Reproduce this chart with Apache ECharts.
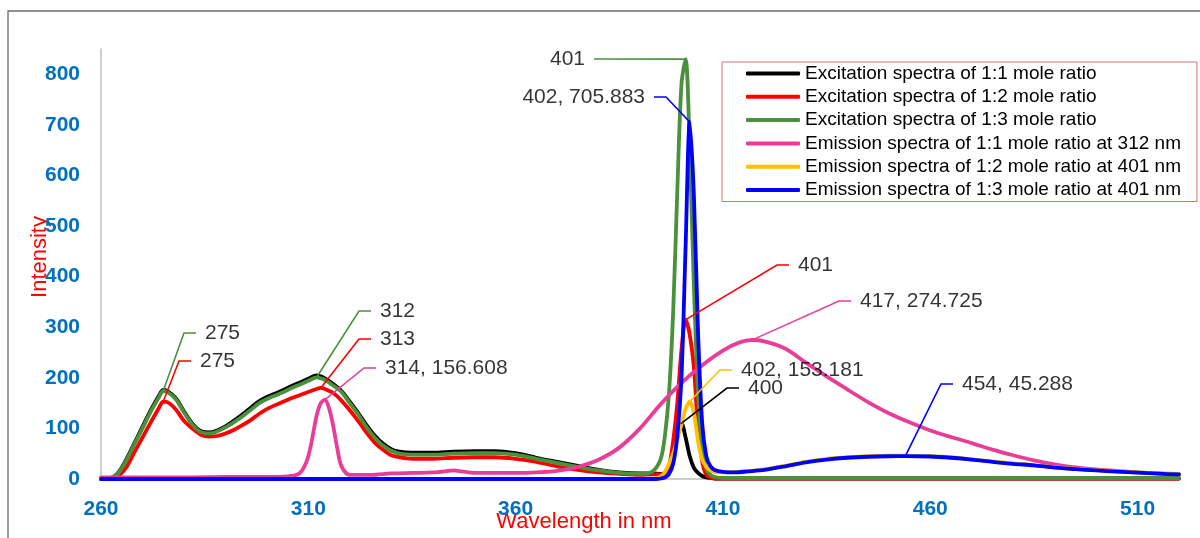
<!DOCTYPE html>
<html>
<head>
<meta charset="utf-8">
<script src="https://cdn.jsdelivr.net/npm/echarts@6/dist/echarts.min.js"></script>
<style>
  html, body { margin: 0; padding: 0; background: #ffffff; }
  #chart { width: 1200px; height: 538px; }
</style>
</head>
<body>
<div id="chart"></div>
<script>
// ---- Spectra data: wavelength (nm) and intensity ----
const excWavelength = [260, 262, 264, 266, 268, 270, 272, 274, 275, 276, 278, 280, 282, 284, 286, 288, 290, 292, 294, 296, 298, 300, 302, 304, 306, 308, 310, 312, 313, 314, 316, 318, 320, 322, 324, 326, 328, 330, 332, 335, 340, 345, 350, 355, 360, 365, 370, 375, 380, 385, 390, 393, 395, 396, 397, 398, 399, 400, 401, 402, 403, 404, 405, 406, 407, 408, 410, 415, 420, 430, 440, 450, 460, 470, 480, 490, 500, 510, 520];

const exc11 = [0, 1, 11, 37, 70, 103, 136, 165, 176, 174, 160, 134, 110, 95, 92, 96, 104, 115, 127, 140, 153, 162, 169, 176, 184, 191, 198, 205, 203, 199, 188, 174, 153, 131, 107, 86, 70, 59, 54, 52, 52, 54, 55, 55, 51, 42, 34, 26, 18, 13, 11, 11, 10, 12, 25, 58, 95, 110, 82, 45, 22, 12, 6, 3, 2, 1, 1, 1, 1, 1, 1, 1, 1, 1, 1, 1, 1, 1, 1];

const exc12 = [0, 0, 5, 22, 52, 82, 112, 141, 153, 152, 138, 115, 100, 88, 84, 85, 90, 97, 106, 116, 128, 138, 146, 153, 160, 166, 172, 178, 180, 178, 170, 155, 136, 115, 92, 72, 58, 47, 43, 40, 40, 42, 43, 43, 40, 34, 25, 18, 13, 10, 8, 9, 9, 11, 25, 75, 150, 255, 315, 285, 220, 100, 35, 8, 3, 1, 1, 1, 1, 1, 1, 1, 1, 1, 1, 1, 1, 1, 1];

const exc13 = [0, 1, 10, 35, 68, 100, 133, 162, 174, 172, 158, 132, 108, 93, 90, 94, 102, 112, 123, 136, 149, 158, 165, 172, 180, 187, 194, 201, 199, 196, 185, 172, 150, 128, 103, 82, 66, 56, 50, 48, 48, 50, 51, 51, 48, 40, 32, 24, 17, 12, 10, 15, 40, 85, 170, 330, 570, 780, 830, 650, 380, 170, 60, 20, 8, 4, 2, 2, 2, 2, 2, 2, 2, 2, 2, 2, 2, 2, 2];

const em11Wavelength = [260, 270, 280, 290, 300, 305, 308, 310, 312, 313, 314, 315, 316, 317, 318, 320, 325, 330, 335, 340, 343, 345, 347, 350, 355, 360, 365, 370, 375, 380, 385, 390, 395, 400, 405, 410, 414, 417, 420, 425, 430, 435, 440, 445, 450, 455, 460, 465, 470, 475, 480, 485, 490, 495, 500, 505, 510, 515, 520];
const em11 = [3, 3, 3, 4, 4, 5, 12, 45, 125, 150, 156.608, 140, 105, 60, 25, 8, 8, 11, 12, 13, 15, 17, 15, 12, 12, 12, 13, 16, 24, 38, 62, 100, 148, 190, 225, 254, 270, 274.725, 272, 258, 230, 203, 177, 152, 130, 112, 96, 83, 71, 58, 47, 37, 29, 23, 19, 16, 13, 11, 10];

const emWavelength = [260, 280, 300, 320, 340, 360, 380, 390, 393, 394, 395, 396, 397, 398, 399, 400, 401, 402, 403, 404, 405, 406, 407, 408, 410, 413, 416, 420, 425, 430, 435, 440, 445, 450, 454, 460, 465, 470, 475, 480, 485, 490, 495, 500, 505, 510, 515, 520];
const em12 = [0, 0, 0, 0, 0, 0, 0, 0, 0, 2, 5, 14, 30, 50, 78, 108, 138, 153.181, 130, 75, 38, 24, 17, 14, 13, 14, 16, 19, 26, 34, 40, 43, 45, 46, 46, 45, 43, 39, 35, 31, 27.5, 23, 20, 17.5, 15, 13, 11, 9.5];
const em13 = [0, 0, 0, 0, 0, 0, 0, 0, 0, 0, 1, 3, 10, 30, 85, 200, 460, 705.883, 560, 290, 110, 45, 25, 18, 14, 13, 15, 18, 25, 33, 38.5, 42, 44, 45, 45.288, 44.5, 42, 38.5, 34, 30, 27, 22.5, 19.5, 17, 14.5, 12.5, 10.5, 9];

const seriesNames = [
  'Excitation spectra of 1:1 mole ratio',
  'Excitation spectra of 1:2 mole ratio',
  'Excitation spectra of 1:3 mole ratio',
  'Emission spectra of 1:1 mole ratio at 312 nm',
  'Emission spectra of 1:2 mole ratio at 401 nm',
  'Emission spectra of 1:3 mole ratio at 401 nm'
];
const seriesColors = ['#000000', '#FF0000', '#4A913C', '#E83E98', '#FFC000', '#0000FF'];

const xTicks = { min: 260, max: 520, step: 50 };
const yTicks = { min: 0, max: 850, step: 100 };

// Peak callouts: series index, wavelength, whether the intensity is printed too
const callouts = [
  [2, 275, false],
  [1, 275, false],
  [2, 312, false],
  [1, 313, false],
  [3, 314, true],
  [2, 401, false],
  [5, 402, true],
  [1, 401, false],
  [3, 417, true],
  [4, 402, true],
  [0, 400, false],
  [5, 454, true]
];
// Where each callout's text box sits (pixels) and how it is aligned
const calloutPlacement = [
  { x: 196, y: 333, align: 'left' },
  { x: 191, y: 361, align: 'left' },
  { x: 371, y: 311, align: 'left' },
  { x: 371, y: 339, align: 'left' },
  { x: 376, y: 368, align: 'left' },
  { x: 594, y: 59, align: 'right' },
  { x: 654, y: 97, align: 'right' },
  { x: 789, y: 265, align: 'left' },
  { x: 851, y: 301, align: 'left' },
  { x: 732, y: 370, align: 'left' },
  { x: 739, y: 388, align: 'left' },
  { x: 953, y: 384, align: 'left' }
];

const seriesX = [excWavelength, excWavelength, excWavelength, em11Wavelength, emWavelength, emWavelength];
const seriesY = [exc11, exc12, exc13, em11, em12, em13];

function pairs(xs, ys) {
  return xs.map((x, i) => [x, ys[i]]);
}

const FONT = '"Liberation Sans", Arial, sans-serif';

const lineSeries = seriesNames.map((name, i) => ({
  name: name,
  type: 'line',
  data: pairs(seriesX[i], seriesY[i]),
  showSymbol: false,
  symbol: 'none',
  smooth: 0.3,
  lineStyle: { color: seriesColors[i], width: 3.8, cap: 'round', join: 'round' },
  itemStyle: { color: seriesColors[i] },
  z: 2 + i,
  silent: true
}));

// A small blank token keeps the leader line clear of the text
const calloutData = callouts.map(([si, wl, withY], k) => {
  const idx = seriesX[si].indexOf(wl);
  const val = seriesY[si][idx];
  const text = '{t|' + (withY ? (wl + ', ' + val) : String(wl)) + '}';
  const gap = '{g| }';
  return {
    value: [wl, val],
    label: {
      show: true,
      formatter: calloutPlacement[k].align === 'left' ? gap + text : text + gap
    },
    labelLine: {
      show: true,
      length2: 12,
      lineStyle: { color: seriesColors[si], width: 1.6 }
    },
    itemStyle: { color: seriesColors[si] }
  };
});

const chart = echarts.init(document.getElementById('chart'), null, { renderer: 'canvas' });

chart.setOption({
  animation: false,
  backgroundColor: '#ffffff',
  grid: { left: 101, right: 21, top: 49, bottom: 59, containLabel: false },
  xAxis: {
    type: 'value',
    min: xTicks.min,
    max: xTicks.max,
    interval: xTicks.step,
    axisLine: { show: true, lineStyle: { color: '#BFBFBF', width: 1.5 } },
    axisTick: { show: false },
    splitLine: { show: false },
    axisLabel: {
      showMaxLabel: false,
      margin: 20,
      color: '#0070C0',
      fontFamily: FONT,
      fontWeight: 'bold',
      fontSize: 21
    }
  },
  yAxis: {
    type: 'value',
    min: yTicks.min,
    max: yTicks.max,
    interval: yTicks.step,
    axisLine: { show: true, lineStyle: { color: '#BFBFBF', width: 1.5 } },
    axisTick: { show: false },
    splitLine: { show: false },
    axisLabel: {
      showMaxLabel: false,
      margin: 21,
      color: '#0070C0',
      fontFamily: FONT,
      fontWeight: 'bold',
      fontSize: 21
    }
  },
  legend: {
    orient: 'vertical',
    left: 722,
    top: 62,
    padding: [0, 16, 0, 24],
    itemGap: 0.3,
    itemWidth: 54,
    itemHeight: 4,
    icon: 'roundRect',
    borderColor: '#D87070',
    borderWidth: 1,
    borderRadius: 0,
    textStyle: { fontFamily: FONT, fontSize: 19, color: '#000000', lineHeight: 23 },
    data: seriesNames,
    selectedMode: false
  },
  series: lineSeries.concat([{
    name: 'peaks',
    type: 'scatter',
    data: calloutData,
    symbolSize: 2,
    z: 20,
    silent: true,
    label: {
      show: true,
      rich: {
        t: { fontFamily: FONT, fontSize: 21, color: '#000000' },
        g: { width: 9, fontSize: 21 }
      }
    },
    labelLayout: function (params) {
      const p = calloutPlacement[params.dataIndex];
      return { x: p.x, y: p.y, align: p.align, verticalAlign: 'middle' };
    }
  }]),
  graphic: [
    {
      type: 'rect',
      silent: true,
      shape: { x: 8, y: 11, width: 1400, height: 800 },
      style: { fill: 'none', stroke: '#6B6B6B', lineWidth: 1.3 }
    },
    {
      type: 'text',
      silent: true,
      x: 584,
      y: 522,
      style: {
        text: 'Wavelength in nm',
        fill: '#FF0000',
        font: '22px ' + FONT,
        align: 'center',
        verticalAlign: 'middle'
      }
    },
    {
      type: 'text',
      silent: true,
      x: 40,
      y: 257,
      rotation: Math.PI / 2,
      style: {
        text: 'Intensity',
        fill: '#FF0000',
        font: '22px ' + FONT,
        align: 'center',
        verticalAlign: 'middle'
      }
    }
  ]
});
</script>
</body>
</html>
